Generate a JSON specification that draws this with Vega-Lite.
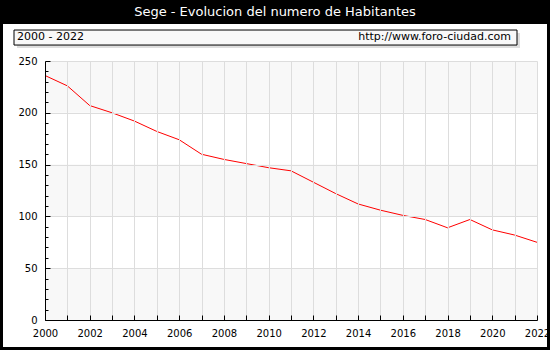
{
  "$schema": "https://vega.github.io/schema/vega-lite/v6.json",
  "width": 492,
  "height": 259,
  "autosize": "none",
  "padding": {"left": 45, "top": 61, "right": 13, "bottom": 30},
  "background": "#000000",
  "config": {
    "view": {"stroke": null},
    "font": "DejaVu Sans",
    "axis": {
      "domainColor": "#000000",
      "tickColor": "#000000",
      "labelColor": "#000000",
      "labelFont": "DejaVu Sans",
      "labelFontSize": 10,
      "gridColor": "#dddddd",
      "gridWidth": 1
    }
  },
  "resolve": {"axis": {"x": "independent", "y": "independent"}},
  "layer": [
    {
      "data": {"values": [{}]},
      "mark": {"type": "rect", "fill": "#ffffff"},
      "encoding": {
        "x": {"datum": 1998.122, "type": "quantitative", "axis": null},
        "x2": {"datum": 2022.447},
        "y": {"datum": 285.7, "type": "quantitative", "axis": null},
        "y2": {"datum": -26.06}
      }
    },
    {
      "data": {"values": [{}]},
      "mark": {"type": "rect", "fill": "#dedede"},
      "encoding": {
        "x": {"datum": 1998.748, "type": "quantitative", "axis": null},
        "x2": {"datum": 2021.24},
        "y": {"datum": 277.0, "type": "quantitative", "axis": null},
        "y2": {"datum": 262.5}
      }
    },
    {
      "data": {"values": [{}]},
      "mark": {"type": "rect", "fill": "#f8f8f8", "stroke": "#000000", "strokeWidth": 1},
      "encoding": {
        "x": {"datum": 1998.614, "type": "quantitative", "axis": null},
        "x2": {"datum": 2021.106},
        "y": {"datum": 279.9, "type": "quantitative", "axis": null},
        "y2": {"datum": 265.4}
      }
    },
    {
      "data": {"values": [{"label": "2000 - 2022"}]},
      "mark": {"type": "text", "align": "left", "baseline": "middle", "fontSize": 11, "font": "DejaVu Sans", "color": "#000000"},
      "encoding": {
        "x": {"datum": 1998.748, "type": "quantitative", "axis": null},
        "y": {"datum": 272.7, "type": "quantitative", "axis": null},
        "text": {"field": "label"}
      }
    },
    {
      "data": {"values": [{"label": "http://www.foro-ciudad.com"}]},
      "mark": {"type": "text", "align": "right", "baseline": "middle", "fontSize": 11, "font": "DejaVu Sans", "color": "#000000"},
      "encoding": {
        "x": {"datum": 2020.837, "type": "quantitative", "axis": null},
        "y": {"datum": 272.7, "type": "quantitative", "axis": null},
        "text": {"field": "label"}
      }
    },
    {
      "data": {"values": [{"label": "Sege - Evolucion del numero de Habitantes"}]},
      "mark": {"type": "text", "align": "center", "baseline": "middle", "fontSize": 13, "font": "DejaVu Sans", "color": "#ffffff"},
      "encoding": {
        "x": {"datum": 2010.284, "type": "quantitative", "axis": null},
        "y": {"datum": 297.3, "type": "quantitative", "axis": null},
        "text": {"field": "label"}
      }
    },
    {
      "data": {"values": [{"lo": 0, "hi": 50}, {"lo": 100, "hi": 150}, {"lo": 200, "hi": 250}]},
      "mark": {"type": "rect", "fill": "#f8f8f8"},
      "encoding": {
        "x": {"datum": 2000, "type": "quantitative", "axis": null},
        "x2": {"datum": 2022},
        "y": {"field": "lo", "type": "quantitative", "axis": null},
        "y2": {"field": "hi"}
      }
    },
    {
      "data": {
        "values": [
          {"year": 2000, "hab": 236},
          {"year": 2001, "hab": 226},
          {"year": 2002, "hab": 207},
          {"year": 2003, "hab": 200},
          {"year": 2004, "hab": 192},
          {"year": 2005, "hab": 182},
          {"year": 2006, "hab": 174},
          {"year": 2007, "hab": 160},
          {"year": 2008, "hab": 155},
          {"year": 2009, "hab": 151},
          {"year": 2010, "hab": 147},
          {"year": 2011, "hab": 144},
          {"year": 2012, "hab": 133},
          {"year": 2013, "hab": 122},
          {"year": 2014, "hab": 112},
          {"year": 2015, "hab": 106},
          {"year": 2016, "hab": 101},
          {"year": 2017, "hab": 97},
          {"year": 2018, "hab": 89},
          {"year": 2019, "hab": 97},
          {"year": 2020, "hab": 87},
          {"year": 2021, "hab": 82},
          {"year": 2022, "hab": 75}
        ]
      },
      "mark": {"type": "line", "color": "#ff0000", "strokeWidth": 1},
      "encoding": {
        "x": {
          "field": "year",
          "type": "quantitative",
          "scale": {"domain": [2000, 2022], "nice": false, "zero": false},
          "axis": {
            "values": [2000, 2001, 2002, 2003, 2004, 2005, 2006, 2007, 2008, 2009, 2010, 2011, 2012, 2013, 2014, 2015, 2016, 2017, 2018, 2019, 2020, 2021, 2022],
            "format": "d",
            "labelExpr": "datum.value % 2 == 0 ? datum.label : ''",
            "labelFlush": false,
            "labelOverlap": false,
            "grid": true,
            "zindex": 1,
            "tickSize": -5,
            "labelPadding": 13,
            "title": null
          }
        },
        "y": {
          "field": "hab",
          "type": "quantitative",
          "scale": {"domain": [0, 250], "nice": false},
          "axis": {
            "values": [0, 10, 20, 30, 40, 50, 60, 70, 80, 90, 100, 110, 120, 130, 140, 150, 160, 170, 180, 190, 200, 210, 220, 230, 240, 250],
            "labelExpr": "datum.value % 50 == 0 ? datum.label : ''",
            "labelOverlap": false,
            "labelFlush": false,
            "grid": true,
            "zindex": 1,
            "gridOpacity": {"condition": {"test": "datum.value % 50 == 0", "value": 1}, "value": 0},
            "tickSize": {"condition": {"test": "datum.value % 50 == 0", "value": -5}, "value": -3},
            "labelPadding": 13,
            "title": null
          }
        }
      }
    }
  ]
}
